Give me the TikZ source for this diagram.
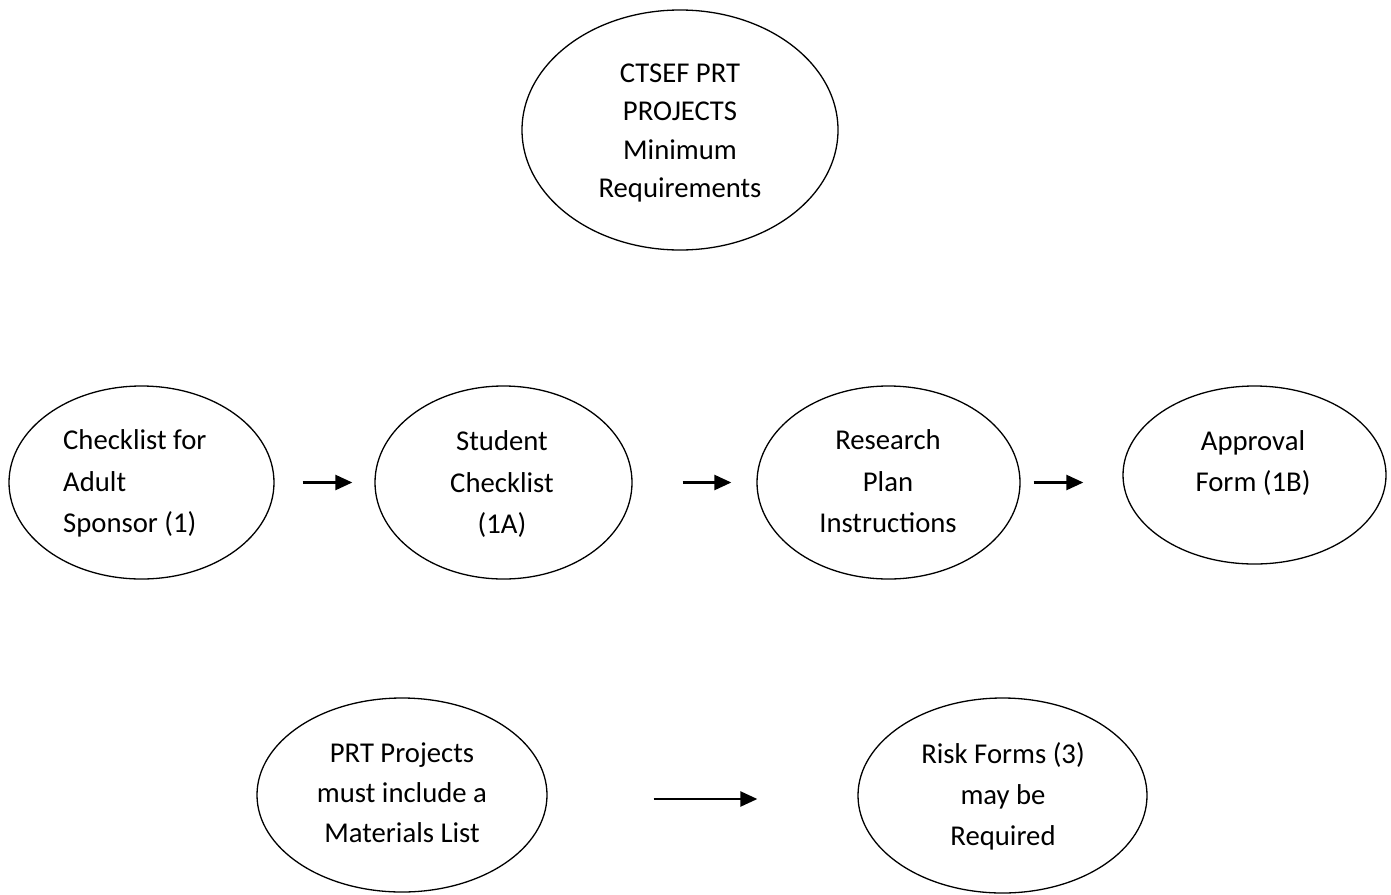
\documentclass[tikz,border=0pt]{standalone}
\usepackage{fontspec}
\setmainfont{Carlito}
\usetikzlibrary{shapes.geometric,arrows.meta}
\begin{document}
\begin{tikzpicture}[x=1pt,y=-1pt,
  oval/.style={draw=black,line width=1.3pt,ellipse,inner sep=0pt},
  lbl/.style={inner sep=0pt,align=center,font=\fontsize{28.7}{41.5}\selectfont},
  arr/.style={line width=2.4pt,-{Triangle[length=17pt,width=15pt]}}]
\useasboundingbox (0,0) rectangle (1391,894);
\fill[white] (0,0) rectangle (1391,894);
% ellipses
\node[oval,minimum width=316pt,minimum height=240pt] (top) at (680,130) {};
\node[oval,minimum width=265pt,minimum height=193pt] (a) at (141.5,482.5) {};
\node[oval,minimum width=257pt,minimum height=193pt] (b) at (503.5,482.5) {};
\node[oval,minimum width=263pt,minimum height=193pt] (c) at (888.5,482.5) {};
\node[oval,minimum width=263pt,minimum height=178pt] (d) at (1254.5,475) {};
\node[oval,minimum width=290pt,minimum height=194pt] (e) at (402,795) {};
\node[oval,minimum width=289pt,minimum height=195pt] (f) at (1002.5,795.5) {};
% texts
\node[lbl,font=\fontsize{28.7}{38.5}\selectfont] (ttop) at (680,132.5) {\strut CTSEF PRT\\PROJECTS\\Minimum\\Requirements\strut};
\node[lbl,align=left,anchor=west] (ta) at (63,483) {\strut Checklist for\\Adult\\Sponsor (1)\strut};
\node[lbl] (tb) at (502,484) {\strut Student\\Checklist\\(1A)\strut};
\node[lbl] (tc) at (888,483) {\strut Research\\Plan\\Instructions\strut};
\node[lbl] (td) at (1253,462.5) {\strut Approval\\Form (1B)\strut};
\node[lbl,font=\fontsize{28.7}{40}\selectfont] (te) at (402,794) {\strut PRT Projects\\must include a\\Materials List\strut};
\node[lbl,font=\fontsize{28.7}{41}\selectfont] (tf) at (1003,796) {\strut Risk Forms (3)\\may be\\Required\strut};
% arrows
\draw[arr,shorten <=28pt,shorten >=22pt] (a.east) -- (a.east -| b.west);
\draw[arr,shorten <=50pt,shorten >=25pt] (b.east) -- (b.east -| c.west);
\draw[arr,shorten <=13pt,shorten >=39pt] (c.east) -- (c.east -| d.west);
\draw[arr,shorten <=106pt,shorten >=100pt,transform canvas={yshift=-4pt}] (e.east) -- (e.east -| f.west);
\end{tikzpicture}
\end{document}
